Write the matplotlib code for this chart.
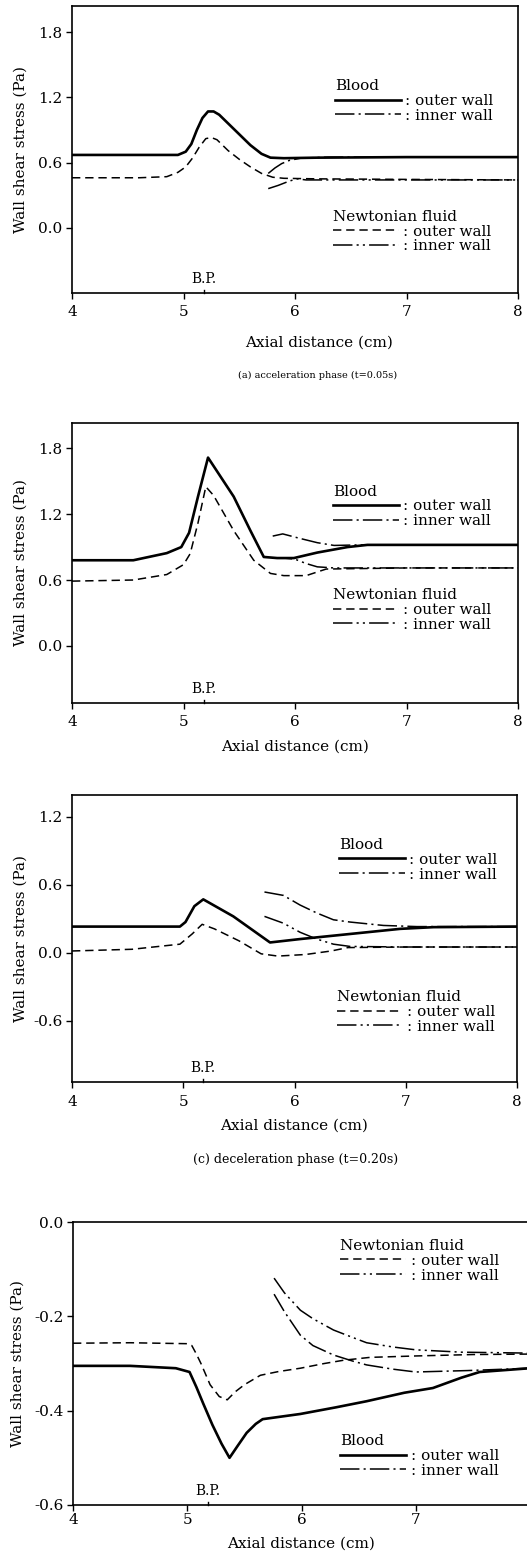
import numpy as np
import matplotlib
matplotlib.use('Agg')
import matplotlib.pyplot as plt
from matplotlib.legend import Legend

plt.rcParams['font.family'] = 'DejaVu Serif'
plt.rcParams['lines.scale_dashes'] = False

BP = 5.18

# ---- (a) acceleration phase ----
a_bo_x = [4.0, 4.5, 4.95, 5.02, 5.07, 5.12, 5.17, 5.22, 5.27, 5.32, 5.4, 5.5, 5.6, 5.7, 5.78, 5.9, 6.2, 7.0, 8.0]
a_bo_y = [0.67, 0.67, 0.67, 0.70, 0.77, 0.90, 1.01, 1.07, 1.07, 1.04, 0.96, 0.86, 0.76, 0.68, 0.645, 0.64, 0.645, 0.65, 0.65]
a_bi_x = [5.76, 5.82, 5.88, 5.95, 6.05, 6.3, 7.0, 8.0]
a_bi_y = [0.50, 0.55, 0.59, 0.62, 0.64, 0.65, 0.65, 0.65]
a_no_x = [4.0, 4.6, 4.85, 4.95, 5.02, 5.08, 5.14, 5.2, 5.25, 5.3, 5.4, 5.5, 5.6, 5.7, 5.8, 5.9, 6.2, 7.0, 8.0]
a_no_y = [0.46, 0.46, 0.47, 0.51, 0.56, 0.64, 0.74, 0.82, 0.83, 0.81, 0.71, 0.63, 0.56, 0.50, 0.465, 0.455, 0.45, 0.445, 0.44]
a_ni_x = [5.76, 5.85, 5.95, 6.02, 6.1, 6.5, 7.0, 8.0]
a_ni_y = [0.36, 0.39, 0.43, 0.45, 0.44, 0.44, 0.44, 0.44]

# ---- (b) ----
b_bo_x = [4.0, 4.55, 4.85, 4.98, 5.05, 5.13, 5.22, 5.45, 5.6, 5.72, 5.84, 5.99, 6.2, 6.47, 6.65, 7.0, 8.0]
b_bo_y = [0.78, 0.78, 0.845, 0.90, 1.03, 1.36, 1.715, 1.36, 1.05, 0.81, 0.80, 0.80, 0.85, 0.90, 0.92, 0.92, 0.92]
b_bi_x = [5.8, 5.89, 6.04, 6.2, 6.35, 6.6, 7.0, 8.0]
b_bi_y = [1.00, 1.02, 0.98, 0.94, 0.915, 0.92, 0.92, 0.92]
b_no_x = [4.0, 4.55, 4.85, 5.0, 5.06, 5.13, 5.2, 5.27, 5.45, 5.63, 5.78, 5.9, 6.1, 6.28, 7.0, 8.0]
b_no_y = [0.59, 0.60, 0.65, 0.74, 0.84, 1.12, 1.45, 1.37, 1.05, 0.78, 0.66, 0.64, 0.64, 0.70, 0.71, 0.71]
b_ni_x = [5.8, 5.9, 6.0, 6.1, 6.2, 6.35, 7.0, 8.0]
b_ni_y = [0.80, 0.80, 0.79, 0.75, 0.72, 0.71, 0.71, 0.71]

# ---- (c) deceleration phase ----
c_bo_x = [4.0, 4.97, 5.02, 5.1, 5.18, 5.45, 5.78, 6.05, 6.5, 6.95, 7.25, 8.0]
c_bo_y = [0.23, 0.23, 0.27, 0.41, 0.47, 0.32, 0.09, 0.12, 0.165, 0.21, 0.225, 0.23]
c_bi_x = [5.73, 5.9, 6.05, 6.2, 6.35, 6.5, 6.8, 7.1, 8.0]
c_bi_y = [0.535, 0.505, 0.42, 0.35, 0.29, 0.27, 0.24, 0.23, 0.23]
c_no_x = [4.0, 4.54, 4.97, 5.08, 5.17, 5.28, 5.5, 5.7, 5.85, 6.1, 6.33, 6.48, 7.0, 8.0]
c_no_y = [0.015, 0.03, 0.075, 0.165, 0.25, 0.21, 0.105, -0.01, -0.03, -0.016, 0.015, 0.045, 0.05, 0.05]
c_ni_x = [5.73, 5.9, 6.05, 6.2, 6.35, 6.5, 7.0, 8.0]
c_ni_y = [0.32, 0.26, 0.18, 0.12, 0.075, 0.055, 0.05, 0.05]

# ---- (d) ----
d_bo_x = [4.0, 4.5, 4.9, 5.02, 5.08, 5.14, 5.22, 5.3, 5.37, 5.44, 5.52, 5.6, 5.66, 5.75, 5.99, 6.3, 6.57, 6.9, 7.15, 7.4, 7.56, 8.0]
d_bo_y = [-0.305, -0.305, -0.31, -0.318, -0.35, -0.385, -0.43, -0.47, -0.50, -0.475, -0.447, -0.428, -0.418, -0.415, -0.407, -0.393, -0.38, -0.362, -0.352, -0.33, -0.318, -0.31]
d_bi_x = [5.76, 5.85, 5.99, 6.1, 6.28, 6.45, 6.57, 6.8, 7.0, 7.45, 8.0]
d_bi_y = [-0.153, -0.19, -0.24, -0.262, -0.282, -0.295, -0.303, -0.312, -0.318, -0.315, -0.31]
d_no_x = [4.0, 4.5, 5.0, 5.04, 5.08, 5.12, 5.2, 5.28, 5.35, 5.42, 5.5, 5.64, 5.8, 5.99, 6.2, 6.37, 6.6, 7.0, 7.5, 8.0]
d_no_y = [-0.257, -0.256, -0.258, -0.262, -0.28, -0.30, -0.345, -0.37, -0.377, -0.36, -0.345, -0.325, -0.317, -0.31, -0.30, -0.293, -0.287, -0.284, -0.281, -0.28]
d_ni_x = [5.76, 5.85, 5.99, 6.1, 6.28, 6.45, 6.57, 6.8, 7.0, 7.4, 8.0]
d_ni_y = [-0.119, -0.15, -0.187, -0.205, -0.229, -0.245, -0.256, -0.265, -0.271, -0.276, -0.278]

x_ticks = [4, 5, 6, 7, 8]

ls_bi = (0, (14, 3, 1.5, 3))
ls_no = (0, (6, 3.5))
ls_ni = (0, (14, 3, 1.5, 3, 1.5, 3))


def add_key(ax, title, handles, x, y):
    leg = Legend(ax, handles, [': outer wall', ': inner wall'], title=title,
                 loc='upper left', bbox_to_anchor=(x, y), frameon=False,
                 handlelength=4.3, handletextpad=0.3, labelspacing=0.05,
                 borderpad=0, borderaxespad=0, alignment='left',
                 fontsize=11, title_fontsize=11)
    ax.add_artist(leg)


def draw_panel(ax, bo, bi, no, ni, ylim, yticks, blood_pos, newt_pos):
    l_bo, = ax.plot(bo[0], bo[1], c='k', lw=1.9)
    l_bi, = ax.plot(bi[0], bi[1], c='k', lw=1.1, ls=ls_bi)
    l_no, = ax.plot(no[0], no[1], c='k', lw=1.1, ls=ls_no)
    l_ni, = ax.plot(ni[0], ni[1], c='k', lw=1.1, ls=ls_ni)

    ax.set_xlim(4, 8)
    ax.set_ylim(ylim)
    ax.set_xticks(x_ticks)
    ax.set_yticks(yticks)
    ax.set_yticklabels(['%.1f' % v for v in yticks])
    ax.tick_params(direction='out', length=4, width=1, labelsize=11, pad=3)
    ax.tick_params(axis='x', pad=5)
    for s in ax.spines.values():
        s.set_linewidth(1.2)

    # branching point marker
    y0 = ylim[0]
    ax.plot([BP, BP], [y0, y0 + 0.012 * (ylim[1] - ylim[0])], c='k', lw=1, clip_on=False)
    ax.text(BP, y0 + 0.025 * (ylim[1] - ylim[0]), 'B.P.', ha='center', va='bottom', fontsize=10)

    ax.set_xlabel('Axial distance (cm)', fontsize=11, labelpad=7)
    ax.set_ylabel('Wall shear stress (Pa)', fontsize=11)
    ax.yaxis.set_label_coords(-0.1, 0.5)

    add_key(ax, 'Blood', [l_bo, l_bi], blood_pos[0], blood_pos[1])
    add_key(ax, 'Newtonian fluid', [l_no, l_ni], newt_pos[0], newt_pos[1])


W, H = 527., 1557.
fig = plt.figure(figsize=(W / 100, H / 100), dpi=100)

ax1 = fig.add_axes([72 / W, 1 - 293 / H, 446 / W, 287 / H])
draw_panel(ax1, (a_bo_x, a_bo_y), (a_bi_x, a_bi_y), (a_no_x, a_no_y), (a_ni_x, a_ni_y),
           (-0.6, 2.04), [0.0, 0.6, 1.2, 1.8], (0.59, 0.745), (0.585, 0.29))
ax1.xaxis.set_label_coords(0.555, -0.15)

ax2 = fig.add_axes([72 / W, 1 - 703 / H, 446 / W, 280 / H])
draw_panel(ax2, (b_bo_x, b_bo_y), (b_bi_x, b_bi_y), (b_no_x, b_no_y), (b_ni_x, b_ni_y),
           (-0.52, 2.03), [0.0, 0.6, 1.2, 1.8], (0.585, 0.78), (0.585, 0.41))

ax3 = fig.add_axes([72 / W, 1 - 1082 / H, 445 / W, 287 / H])
draw_panel(ax3, (c_bo_x, c_bo_y), (c_bi_x, c_bi_y), (c_no_x, c_no_y), (c_ni_x, c_ni_y),
           (-1.14, 1.39), [-0.6, 0.0, 0.6, 1.2], (0.60, 0.85), (0.595, 0.32))

# last panel runs past the right edge of the page, so its "8" is not shown
ax4 = fig.add_axes([73 / W, 1 - 1505 / H, 457 / W, 283 / H])
draw_panel(ax4, (d_bo_x, d_bo_y), (d_bi_x, d_bi_y), (d_no_x, d_no_y), (d_ni_x, d_ni_y),
           (-0.6, 0.0), [-0.6, -0.4, -0.2, 0.0], (0.585, 0.25), (0.585, 0.94))
ax4.set_xticks([4, 5, 6, 7])
ax4.tick_params(axis='x', pad=2)
ax4.yaxis.set_label_coords(-0.105, 0.5)

fig.text(318 / W, 1 - 375 / H, '(a) acceleration phase (t=0.05s)', ha='center', va='center', fontsize=7)
fig.text(296 / W, 1 - 1159 / H, '(c) deceleration phase (t=0.20s)', ha='center', va='center', fontsize=9)

plt.savefig('out.png', dpi=100)
plt.close()
